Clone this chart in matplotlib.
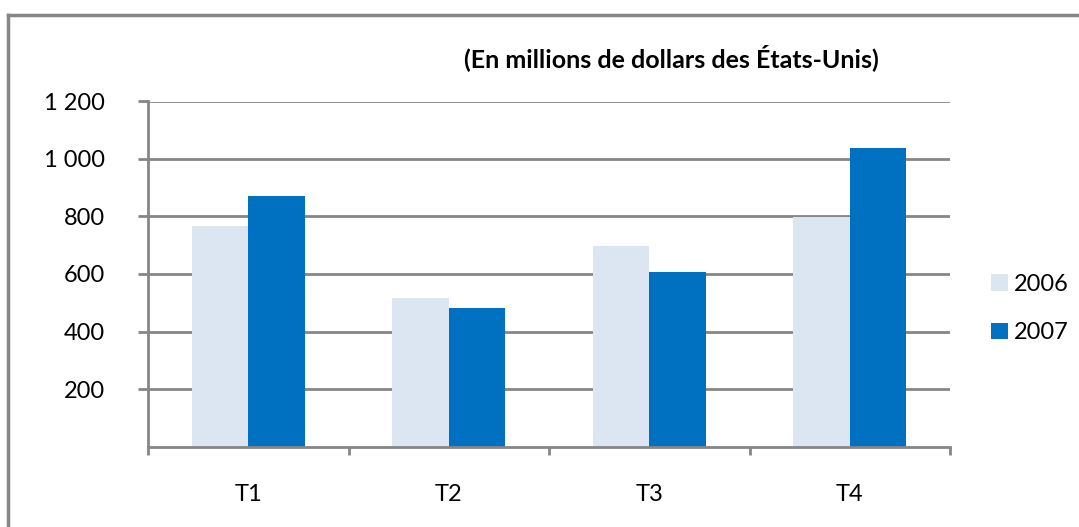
import numpy as np
import matplotlib.pyplot as plt
from matplotlib.lines import Line2D

plt.rcParams['font.family'] = ['Lato', 'DejaVu Sans']

quarters = ['T1', 'T2', 'T3', 'T4']
years = ['2006', '2007']
v2006 = [767, 516, 697, 798]
v2007 = [871, 482, 607, 1038]
yticks = [200, 400, 600, 800, 1000, 1200]
ytick_labels = ['200', '400', '600', '800', '1 000', '1 200']

c2006 = '#dce6f2'
c2007 = '#0070c0'
grey = '#868686'

fig = plt.figure(figsize=(10.79, 5.27), dpi=100)
ax = fig.add_axes([148/1079, 1-446.5/527, 802/1079, 345/527])

x = np.arange(len(quarters))
w = 0.283
ax.bar(x - w/2, v2006, w, color=c2006, label=years[0], zorder=3)
ax.bar(x + w/2, v2007, w, color=c2007, label=years[1], zorder=3)

ax.set_xlim(-0.5, 3.5)
ax.set_ylim(0, 1200)
ax.set_yticks(yticks)
ax.set_yticklabels(ytick_labels)
ax.set_xticks(x)
ax.set_xticklabels(quarters)
ax.set_xticks(np.arange(-0.5, 4, 1), minor=True)

ax.grid(axis='y', color=grey, linewidth=2, zorder=0)
for s in ['top', 'right']:
    ax.spines[s].set_visible(False)
for s in ['left', 'bottom']:
    ax.spines[s].set_color(grey)
    ax.spines[s].set_linewidth(2)
    ax.spines[s].set_zorder(4)

ax.tick_params(axis='y', length=7, width=2, color=grey, pad=24, labelsize=17)
ax.tick_params(axis='x', which='major', length=0, pad=27, labelsize=17)
ax.tick_params(axis='x', which='minor', length=6, width=2, color=grey)

fig.text(671/1079, 1-58/527, '(En millions de dollars des États-Unis)',
         ha='center', va='center', fontsize=18, fontweight='bold')

ax.legend(loc='center left', bbox_to_anchor=(1.025, 0.40), frameon=False,
          fontsize=17, handlelength=0.7, handleheight=0.7, handletextpad=0.25,
          labelspacing=1.15)

# chart area border (left and top only)
fig.add_artist(Line2D([8/1079, 8/1079], [0, 1-15/527], color=grey, linewidth=2.5))
fig.add_artist(Line2D([8/1079, 1], [1-15/527, 1-15/527], color=grey, linewidth=2.5))

plt.savefig('out.png', dpi=100)
